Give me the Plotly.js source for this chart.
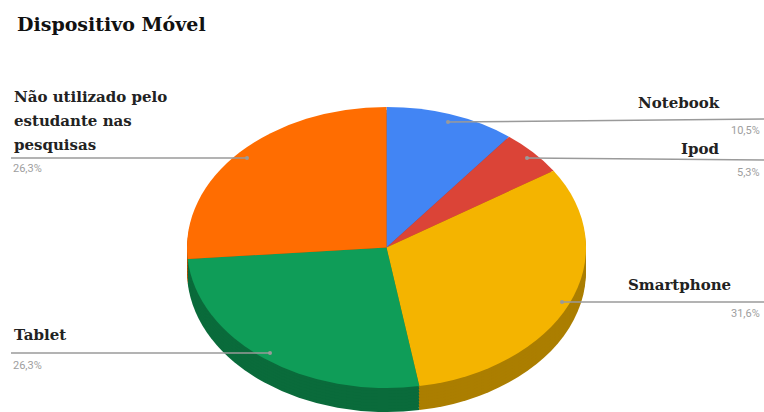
<!DOCTYPE html>
<html>
<head>
<meta charset="utf-8">
<script src="https://cdn.plot.ly/plotly-3.0.1.min.js"></script>
<style>html,body{margin:0;padding:0;background:#fff;}#chart{width:764px;height:412px;}</style>
</head>
<body>
<div id="chart"></div>
<script>
// Data
const categories = ["Notebook", "Ipod", "Smartphone", "Tablet", "Não utilizado pelo estudante nas pesquisas"];
const counts = [2, 1, 6, 5, 5];
const percentLabels = ["10,5%", "5,3%", "31,6%", "26,3%", "26,3%"];
const topColors = ["#4285F4", "#DB4437", "#F4B400", "#0F9D58", "#FF6D01"];
const sideColors = ["#2d5fb3", "#9c3027", "#ab7e00", "#0a6b3b", "#b34d00"];

const W = 764, H = 412;
const cx = 386.5, cyTop = 247.5, ry = 140.5, rx = 199.5, depth = 24;

function pieTrace(offset, colors) {
  const cy = cyTop + offset;
  const yc = H - cy;
  return {
    type: 'pie',
    labels: categories,
    values: counts,
    sort: false,
    direction: 'clockwise',
    rotation: 0,
    textinfo: 'none',
    hoverinfo: 'none',
    showlegend: false,
    marker: {colors: colors, line: {width: 0}},
    domain: {x: [(cx - ry) / W, (cx + ry) / W], y: [(yc - ry) / H, (yc + ry) / H]}
  };
}

const traces = [];
for (let d = depth; d > 0; d -= 3) traces.push(pieTrace(d, sideColors));
traces.push(pieTrace(0, topColors));

const labelFont = {family: 'DejaVu Serif', size: 15, color: '#222'};
const pctFont = {family: 'Roboto', size: 11, color: '#9e9e9e'};

function ann(text, x, y, xanchor, font) {
  return {text: text, x: x / W, y: 1 - y / H, xref: 'paper', yref: 'paper',
          xanchor: xanchor, yanchor: 'middle', showarrow: false, font: font};
}

const annotations = [
  ann('<b>Não utilizado pelo</b>', 12, 97, 'left', labelFont),
  ann('<b>estudante nas</b>', 12, 121, 'left', labelFont),
  ann('<b>pesquisas</b>', 12, 145, 'left', labelFont),
  ann(percentLabels[4], 11, 169, 'left', pctFont),
  ann('<b>' + categories[3] + '</b>', 12, 335, 'left', labelFont),
  ann(percentLabels[3], 11, 365, 'left', pctFont),
  ann('<b>' + categories[0] + '</b>', 722, 103, 'right', labelFont),
  ann(percentLabels[0], 762, 130, 'right', pctFont),
  ann('<b>' + categories[1] + '</b>', 722, 149, 'right', labelFont),
  ann(percentLabels[1], 762, 172, 'right', pctFont),
  ann('<b>' + categories[2] + '</b>', 733, 285, 'right', labelFont),
  ann(percentLabels[2], 762, 313, 'right', pctFont)
];

function seg(x0, y0, x1, y1) {
  return {type: 'line', xref: 'paper', yref: 'paper', x0: x0 / W, y0: 1 - y0 / H, x1: x1 / W, y1: 1 - y1 / H,
          line: {color: '#9a9a9a', width: 1.5}, layer: 'above'};
}
function dot(x, y) {
  const r = 2;
  return {type: 'circle', xref: 'paper', yref: 'paper', x0: (x - r) / W, x1: (x + r) / W, y0: 1 - (y + r) / H, y1: 1 - (y - r) / H,
          fillcolor: '#9a9a9a', line: {width: 0}, layer: 'above'};
}
const shapes = [
  seg(11, 158, 247, 158), dot(247, 158),
  seg(11, 353, 270, 353), dot(270, 353),
  seg(448, 122, 764, 119), dot(448, 122),
  seg(527, 158, 764, 160), dot(527, 158),
  seg(562, 302, 764, 302), dot(562, 302)
];

const layout = {
  width: W, height: H,
  margin: {l: 0, r: 0, t: 0, b: 0},
  paper_bgcolor: '#ffffff',
  title: {text: '<b>Dispositivo Móvel</b>', x: 17 / W, xanchor: 'left', xref: 'paper',
          y: 1 - 24 / H, yanchor: 'middle', font: {family: 'DejaVu Serif', size: 19, color: '#111'}},
  annotations: annotations,
  shapes: shapes,
  showlegend: false
};

Plotly.newPlot('chart', traces, layout, {staticPlot: true, displayModeBar: false}).then(gd => {
  const sx = rx / ry;
  gd.querySelectorAll('.pielayer g.trace').forEach(g => {
    g.setAttribute('transform', 'translate(' + cx + ',0) scale(' + sx + ',1) translate(' + (-cx) + ',0)');
  });
});
</script>
</body>
</html>
